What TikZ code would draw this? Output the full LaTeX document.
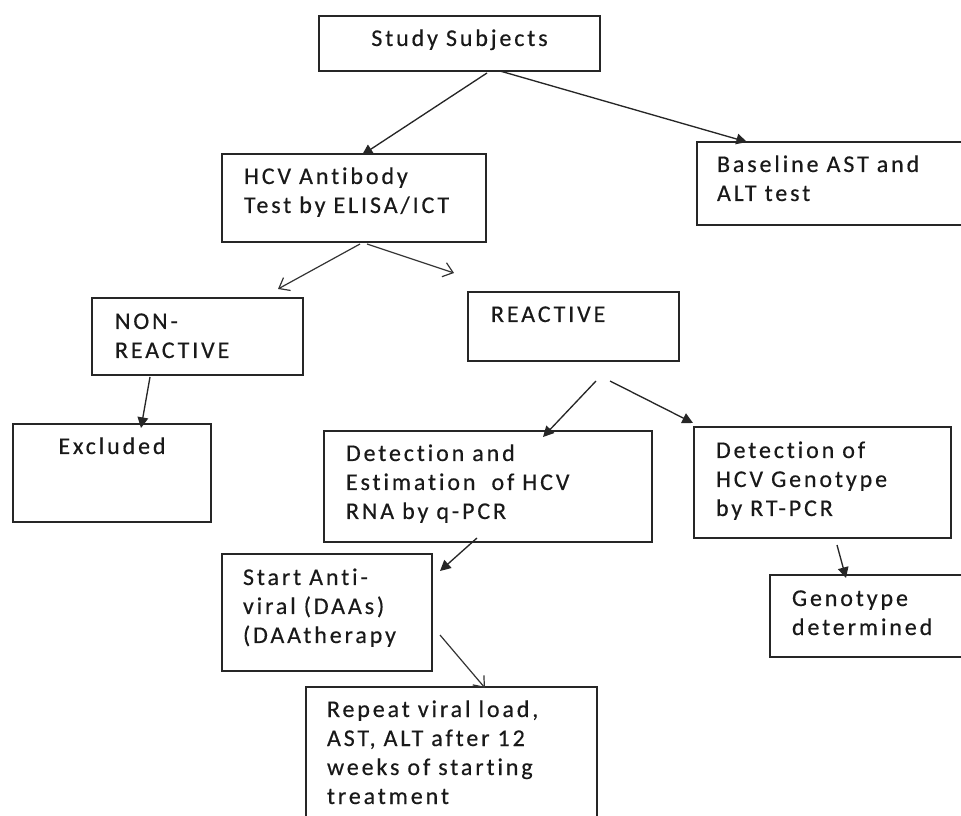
\documentclass[tikz,border=0pt]{standalone}
\usepackage{fontspec}
\setmainfont{Carlito}[LetterSpace=12,FakeBold=0.4,Ligatures=NoCommon]
\usetikzlibrary{arrows.meta,calc}
\hyphenpenalty=10000
\exhyphenpenalty=10000

\tikzset{
  box/.style={draw=black!85, line width=1.2pt, anchor=north west, inner ysep=0pt, outer sep=0pt,
    align=left, font=\fontsize{18}{21.75}\selectfont, text=black!90},
  arr/.style={draw=black!85, line width=1pt, -{Triangle[length=8pt,width=8pt]}},
  openarr/.style={draw=black!80, line width=0.9pt, -{Straight Barb[length=7pt,width=11pt]}},
}

\begin{document}
\begin{tikzpicture}[x=0.75pt, y=-0.75pt]
\useasboundingbox (0,0) rectangle (961,816);

% boxes
\node[box, align=center, text width=195.75pt, inner xsep=7.5pt, text height=22.5pt, text depth=18.75pt] (study) at (319,16) {Study Subjects};
\node[box, text width=165pt, inner xsep=16.5pt, text height=22.5pt, text depth=43.5pt] (hcv) at (222,154) {HCV Antibody\\Test by ELISA/ICT};
\node[box, text width=170.25pt, inner xsep=15pt, text height=22.5pt, text depth=39.75pt] (base) at (697,142) {Baseline AST and\\ALT test};
\node[box, text width=123.75pt, inner xsep=17.25pt, text height=23.25pt, text depth=34.5pt] (nonreact) at (92,298) {NON-\\REACTIVE};
\node[box, text width=123.75pt, inner xsep=17.25pt, text height=22.5pt, text depth=29.25pt] (react) at (468,292) {REACTIVE};
\node[box, align=center, text width=133.5pt, inner xsep=7.5pt, text height=22.5pt, text depth=51pt] (excl) at (13,424) {Excluded};
\node[box, text width=213pt, inner xsep=16.5pt, text height=22.5pt, text depth=60.75pt] (rna) at (324,431) {Detection and\\Estimation \ of HCV\\RNA by q-PCR};
\node[box, text width=159.75pt, inner xsep=16.5pt, text height=23.25pt, text depth=60pt] (geno) at (694,427) {Detection of\\HCV Genotype\\by RT-PCR};
\node[box, text width=126pt, inner xsep=15.75pt, text height=23.25pt, text depth=64.5pt] (daa) at (222,554) {Start Anti-\\viral (DAAs)\\(DAAtherapy};
\node[box, text width=112.5pt, inner xsep=16.5pt, text height=23.25pt, text depth=38.25pt] (genodet) at (770,575) {Genotype\\determined};
\node[box, text width=186.75pt, inner xsep=15.75pt, text height=22.5pt, text depth=84.75pt] (repeat) at (306,687) {Repeat viral load,\\AST, ALT after 12\\weeks of starting\\treatment};

% loose ends under REACTIVE
\coordinate (forkL) at ($(react.south west)+(128,20)$);
\coordinate (forkR) at ($(react.south west)+(142,20)$);

% arrows
\draw[arr] ($(study.north west)+(168,57)$) -- ($(hcv.north west)+(140,1)$);
\draw[arr] ($(study.north west)+(181,55)$) -- ($(base.north west)+(50,0)$);
\draw[openarr] ($(hcv.north west)+(138,90)$) -- ($(nonreact.north west)+(186,-9)$);
\draw[openarr] ($(hcv.north west)+(145,90)$) -- ($(react.north west)+(-14,-19)$);
\draw[arr] ($(nonreact.north west)+(58,79)$) -- ($(excl.north west)+(128,4)$);
\draw[arr] (forkL) -- ($(rna.north west)+(219,6)$);
\draw[arr] (forkR) -- ($(geno.north west)+(-1,-4)$);
\draw[arr] ($(rna.north west)+(153,107)$) -- ($(daa.north west)+(218,17)$);
\draw[arr] ($(geno.north west)+(143,118)$) -- ($(genodet.north west)+(76,3)$);
\draw[openarr] ($(daa.north west)+(218,81)$) -- ($(repeat.north west)+(179,1)$);
\end{tikzpicture}
\end{document}
